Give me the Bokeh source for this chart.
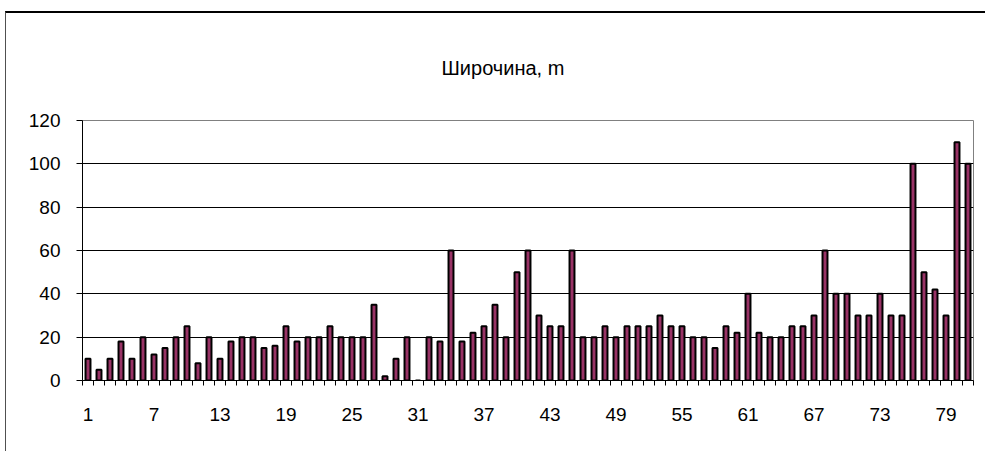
from bokeh.plotting import figure
from bokeh.models import Range1d, FixedTicker
from bokeh.embed import file_html
from bokeh.resources import INLINE

# Data
categories = list(range(1, 82))
widths = [10, 5, 10, 18, 10, 20, 12, 15, 20, 25,
          8, 20, 10, 18, 20, 20, 15, 16, 25, 18,
          20, 20, 25, 20, 20, 20, 35, 2, 10, 20,
          0, 20, 18, 60, 18, 22, 25, 35, 20, 50,
          60, 30, 25, 25, 60, 20, 20, 25, 20, 25,
          25, 25, 30, 25, 25, 20, 20, 15, 25, 22,
          40, 22, 20, 20, 25, 25, 30, 60, 40, 40,
          30, 30, 40, 30, 30, 100, 50, 42, 30, 110,
          100]
x_tick_labels = [1, 7, 13, 19, 25, 31, 37, 43, 49, 55, 61, 67, 73, 79]
y_ticks = [0, 20, 40, 60, 80, 100, 120]
title_text = "Широчина, m"

FONT = "Liberation Sans"

p = figure(width=980, height=440, output_backend="svg", toolbar_location=None,
           x_range=Range1d(0.5, len(categories) + 0.5), y_range=Range1d(0, 120),
           min_border_left=76, min_border_right=13, min_border_top=106, min_border_bottom=73,
           title=title_text)
p.margin = (11, 0, 0, 5)
p.styles = {"border-top": "2px solid black", "border-left": "1px solid #505050"}

p.background_fill_color = "white"
p.border_fill_color = "white"
p.outline_line_color = "#808080"
p.outline_line_width = 1

p.vbar(x=categories, top=widths, width=0.45, fill_color="#993366",
       line_color="black", line_width=2)

# Title
p.title.align = "left"
p.title.offset = 359
p.title.standoff = 83
p.title.text_font = FONT
p.title.text_font_size = "20px"
p.title.text_font_style = "normal"
p.title.text_color = "black"

# Y axis
p.yaxis.ticker = FixedTicker(ticks=y_ticks)
p.yaxis.axis_line_color = "black"
p.yaxis.major_tick_out = 6
p.yaxis.major_tick_in = 0
p.yaxis.minor_tick_line_color = None
p.yaxis.major_label_standoff = 16
p.yaxis.major_label_text_font = FONT
p.yaxis.major_label_text_font_size = "19px"
p.yaxis.major_label_text_color = "black"

# X axis
bounds = [c - 0.5 for c in categories] + [categories[-1] + 0.5]
p.xaxis.ticker = FixedTicker(ticks=x_tick_labels, minor_ticks=bounds)
p.xaxis.axis_line_color = "black"
p.xaxis.major_tick_out = 0
p.xaxis.major_tick_in = 0
p.xaxis.minor_tick_out = 5
p.xaxis.minor_tick_in = 0
p.xaxis.minor_tick_line_color = "black"
p.xaxis.major_label_standoff = 22
p.xaxis.major_label_text_font = FONT
p.xaxis.major_label_text_font_size = "19px"
p.xaxis.major_label_text_color = "black"

# Grid
p.xgrid.grid_line_color = None
p.ygrid.ticker = FixedTicker(ticks=y_ticks[1:-1])
p.ygrid.grid_line_color = "black"
p.ygrid.grid_line_width = 1

open("out.html", "w").write(file_html(p, INLINE))
